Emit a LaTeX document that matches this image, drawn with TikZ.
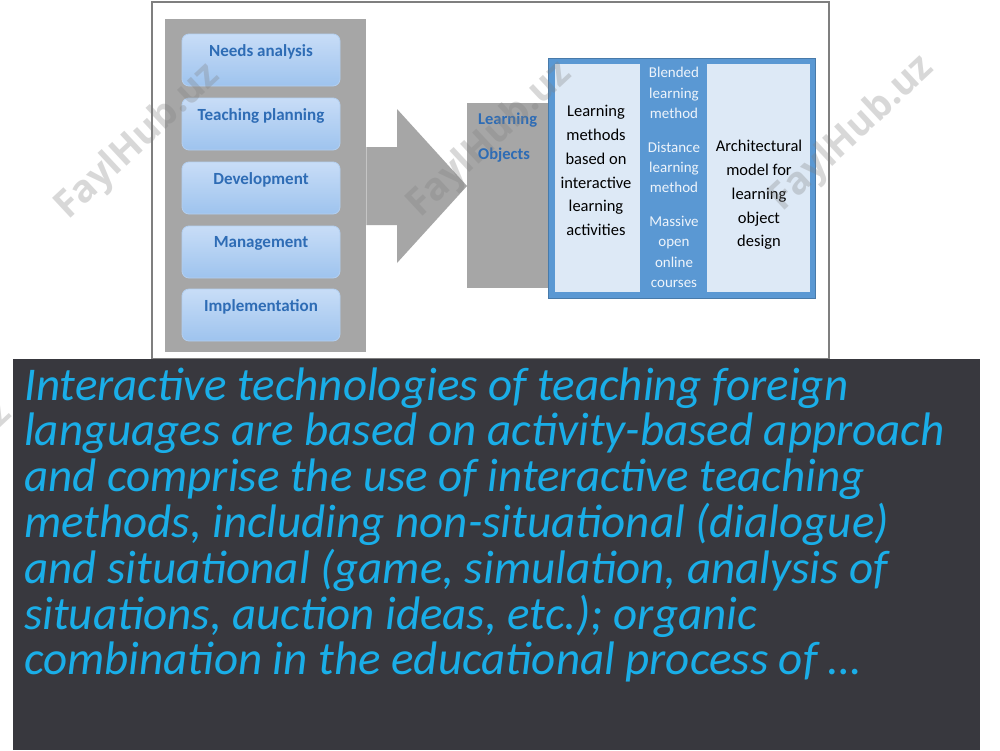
\documentclass[tikz,border=0pt]{standalone}
\usepackage{fontspec}
\setmainfont{Carlito}
\newfontfamily\wmfont{Open Sans}
\usetikzlibrary{calc}
\definecolor{panelgray}{HTML}{A6A6A6}
\definecolor{framegray}{HTML}{7F7F7F}
\definecolor{boxtop}{HTML}{C8DDF7}
\definecolor{boxbot}{HTML}{9EC3EE}
\definecolor{boxline}{HTML}{B3CFF0}
\definecolor{dkblue}{HTML}{2E6CB5}
\definecolor{frameblue}{HTML}{5A98D3}
\definecolor{cellblue}{HTML}{DDE9F6}
\definecolor{midtext}{HTML}{EEF4FB}
\definecolor{darkbg}{HTML}{38383E}
\definecolor{cyantext}{HTML}{1AAEE8}
\tikzset{
  panel/.style={fill=panelgray, draw=none, inner sep=0pt},
  bluebox/.style={rounded corners=7pt, top color=boxtop, bottom color=boxbot, draw=boxline, line width=0.8pt, minimum width=158pt, minimum height=52pt, inner sep=0pt},
  boxlbl/.style={font=\fontsize{17}{20}\selectfont\bfseries, text=dkblue, inner sep=0pt},
  cell/.style={fill=cellblue, draw=none, inner sep=0pt},
  celltext/.style={font=\fontsize{16.5}{23.8}\selectfont, text=black, align=center, inner sep=0pt},
  midtxt/.style={font=\fontsize{15}{20.3}\selectfont, text=midtext, align=center, inner sep=0pt},
  lotext/.style={font=\fontsize{16.5}{19}\selectfont\bfseries, text=dkblue, inner sep=0pt, anchor=west},
  bodyline/.style={font=\fontsize{47}{46}\selectfont\itshape, text=cyantext, anchor=base west, inner sep=0pt},
  wm/.style={font=\wmfont\fontsize{38}{38}\selectfont\bfseries, text=gray, opacity=0.3, inner sep=0pt},
}
\begin{document}
\begin{tikzpicture}[x=1pt,y=-1pt]
\useasboundingbox (0,0) rectangle (1000,750);
\fill[white] (0,0) rectangle (1000,750);
% picture frame
\draw[framegray, line width=1.2pt] (152,2) rectangle (829,359);
% left panel
\node[panel, anchor=north west, minimum width=201pt, minimum height=333pt] (P) at (165,19) {};
% stage boxes
\node[bluebox] (b1) at (261,60) {};
\node[bluebox] (b2) at (261,124) {};
\node[bluebox] (b3) at (261,188) {};
\node[bluebox] (b4) at (261,252) {};
\node[bluebox] (b5) at (261,315) {};
\node[boxlbl] (l1) at ($(b1.north)+(0,18)$) {Needs analysis};
\node[boxlbl] (l2) at ($(b2.north)+(0,18)$) {Teaching planning};
\node[boxlbl] (l3) at ($(b3.north)+(0,18)$) {Development};
\node[boxlbl] (l4) at ($(b4.north)+(0,18)$) {Management};
\node[boxlbl] (l5) at ($(b5.north)+(0,18)$) {Implementation};
% learning objects panel
\node[panel, anchor=north west, minimum width=83pt, minimum height=185pt] (LO) at (467,103) {};
\node[lotext] (lo1) at (478,120) {Learning};
\node[lotext] (lo2) at (478,155) {Objects};
% block arrow from P to LO
\fill[panelgray] (P.east |- 0,147) -- (397,147) -- (397,109) -- (LO.west |- 0,186)
  -- (397,263) -- (397,225) -- (P.east |- 0,225) -- cycle;
% blue frame
\node[fill=frameblue, draw=frameblue!80!black, line width=0.6pt, anchor=north west, minimum width=267pt, minimum height=240pt, inner sep=0pt] (F) at (548,58) {};
\node[cell, anchor=north west, minimum width=85pt, minimum height=228pt] (C1) at (555,64) {};
\node[cell, anchor=north west, minimum width=103pt, minimum height=228pt] (C3) at (707,64) {};
\node[celltext] (t1) at (596,170.5) {Learning\\methods\\based on\\interactive\\learning\\activities};
\node[celltext] (t3) at (759,195) {Architectural\\model for\\learning\\object\\design};
\node[midtxt] (m1) at (674,93) {Blended\\learning\\method};
\node[midtxt] (m2) at (674,167.5) {Distance\\learning\\method};
\node[midtxt] (m3) at (674,252) {Massive\\open\\online\\courses};
% watermark at the left edge, behind the text box
\node[wm, rotate=43] (w4) at (-70,480) {FaylHub.uz};
% dark text box
\fill[darkbg] (13,359) rectangle (980,750);
\node[bodyline] (s1) at (24,400) {Interactive technologies of teaching foreign};
\node[bodyline] (s2) at (24,445.8) {languages are based on activity-based approach};
\node[bodyline] (s3) at (24,491.6) {and comprise the use of interactive teaching};
\node[bodyline] (s4) at (24,537.4) {methods, including non-situational (dialogue)};
\node[bodyline] (s5) at (24,583.2) {and situational (game, simulation, analysis of};
\node[bodyline] (s6) at (24,629) {situations, auction ideas, etc.); organic};
\node[bodyline] (s7) at (24,674.8) {combination in the educational process of …};
\node[wm, rotate=43] (w1) at (138,142) {FaylHub.uz};
\node[wm, rotate=43] (w2) at (490,140) {FaylHub.uz};
\node[wm, rotate=43] (w3) at (852,134) {FaylHub.uz};
\end{tikzpicture}
\end{document}
